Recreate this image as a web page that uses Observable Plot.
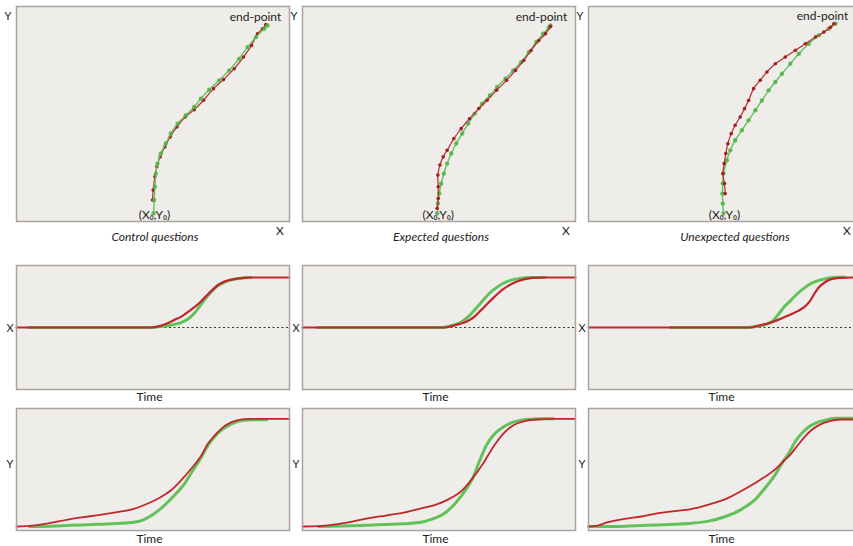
<!DOCTYPE html>
<html>
<head>
<meta charset="utf-8">
<script src="https://cdn.jsdelivr.net/npm/d3@7"></script>
<script src="https://cdn.jsdelivr.net/npm/@observablehq/plot@0.6"></script>
<style>
  html, body { margin: 0; padding: 0; background: #ffffff; }
  #wrap { position: relative; width: 853px; height: 546px; overflow: hidden; font-family: Lato, "Open Sans", sans-serif; color: #222; }
  .pnl { position: absolute; }
  .pnl svg { overflow: visible; display: block; max-width: none !important; }
  .lbl { position: absolute; transform: translate(-50%, -50%); white-space: nowrap; font-size: 12px; line-height: 1; }
  .it { font-style: italic; }
</style>
</head>
<body>
<div id="wrap"></div>
<script>
// ---------------- DATA ----------------
const conditions = ["Control questions", "Expected questions", "Unexpected questions"];

// Top row: mouse trajectories, normalised (start = 0,0 ; end-point = 1,1)
const trajControlRed   = [[-0.009,0.071],[-0.003,0.124],[0.012,0.195],[0.029,0.248],[0.058,0.301],[0.099,0.354],[0.146,0.407],[0.205,0.460],[0.278,0.513],[0.357,0.552],[0.439,0.602],[0.526,0.664],[0.614,0.712],[0.708,0.770],[0.789,0.832],[0.860,0.894],[0.912,0.956],[0.956,0.982],[0.985,1.005]];
const trajControlGreen = [[0,0],[0.006,0.071],[0.012,0.142],[0.020,0.212],[0.035,0.265],[0.064,0.319],[0.108,0.372],[0.152,0.425],[0.211,0.478],[0.284,0.522],[0.357,0.566],[0.415,0.611],[0.488,0.658],[0.576,0.708],[0.664,0.761],[0.751,0.823],[0.825,0.885],[0.898,0.938],[0.971,0.982],[1,1]];
const trajExpectedRed   = [[0,0.027],[0.009,0.080],[0.009,0.142],[0.006,0.204],[0.024,0.257],[0.053,0.301],[0.088,0.336],[0.147,0.398],[0.212,0.451],[0.285,0.504],[0.368,0.558],[0.441,0.602],[0.524,0.655],[0.612,0.708],[0.691,0.761],[0.765,0.814],[0.829,0.867],[0.897,0.920],[0.956,0.956],[1,0.995]];
const trajExpectedGreen = [[0,0],[0.006,0.053],[0.018,0.106],[0.035,0.159],[0.059,0.212],[0.088,0.265],[0.124,0.319],[0.168,0.372],[0.221,0.425],[0.274,0.478],[0.332,0.531],[0.397,0.584],[0.465,0.628],[0.529,0.673],[0.603,0.717],[0.671,0.761],[0.741,0.805],[0.809,0.858],[0.876,0.912],[0.935,0.956],[0.985,0.988],[1,1]];
const trajUnexpectedRed   = [[0.015,0.105],[0.009,0.158],[-0.006,0.211],[0.006,0.263],[0.021,0.316],[0.039,0.368],[0.069,0.421],[0.104,0.465],[0.149,0.509],[0.188,0.553],[0.224,0.596],[0.269,0.658],[0.328,0.702],[0.388,0.746],[0.463,0.789],[0.552,0.825],[0.642,0.860],[0.731,0.895],[0.821,0.930],[0.896,0.956],[0.955,0.982],[0.985,1]];
const trajUnexpectedGreen = [[0,0],[-0.006,0.053],[-0.009,0.105],[-0.006,0.158],[0,0.211],[0.030,0.281],[0.060,0.333],[0.104,0.386],[0.164,0.439],[0.224,0.491],[0.284,0.544],[0.343,0.596],[0.403,0.649],[0.463,0.693],[0.522,0.737],[0.597,0.789],[0.672,0.842],[0.761,0.895],[0.851,0.939],[0.940,0.974],[1,1]];

// Middle row: X over time (time 0-100, X normalised 0 = X0, 1 = end-point)
const xtControlRed     = [[0,0],[49,0],[52.7,0.033],[55.1,0.08],[57.6,0.147],[60.7,0.227],[63.7,0.347],[66.8,0.48],[69.2,0.613],[71.7,0.747],[74.1,0.86],[76.6,0.927],[79.7,0.967],[83.3,0.993],[85.8,1],[100,1]];
const xtControlGreen   = [[4.3,0],[49.6,0],[52.7,0.02],[56.4,0.047],[60,0.093],[63.1,0.18],[65.6,0.313],[67.4,0.447],[69.2,0.58],[71.3,0.713],[73.5,0.827],[76,0.9],[78.4,0.947],[82.1,0.987],[85.8,1]];
const xtExpectedRed    = [[0,0],[52.4,0],[54.9,0.033],[57.3,0.067],[60.4,0.127],[62.9,0.213],[65.4,0.347],[67.8,0.48],[70.3,0.613],[72.7,0.733],[75.2,0.827],[78.3,0.913],[81.4,0.967],[84.5,0.993],[88.2,1],[100,1]];
const xtExpectedGreen  = [[5.5,0],[51.2,0],[53.6,0.027],[56.1,0.06],[58.6,0.127],[61,0.227],[63.5,0.38],[66,0.533],[68.4,0.68],[70.9,0.793],[73.4,0.88],[76.4,0.947],[79.5,0.98],[83.2,1],[88.8,1]];
const xtUnexpectedRed  = [[0,0],[59.4,0],[61.9,0.033],[65.6,0.08],[69.2,0.147],[72.9,0.233],[76.6,0.327],[79.1,0.413],[80.9,0.513],[82.8,0.68],[84.6,0.813],[86.5,0.9],[88.9,0.967],[92,0.993],[96.7,1],[100,1]];
const xtUnexpectedGreen= [[29.9,0],[58.2,0],[61.3,0.02],[64.9,0.06],[67.4,0.127],[69.3,0.247],[71.7,0.413],[74.2,0.547],[76.6,0.68],[79.1,0.793],[81.5,0.88],[84.6,0.947],[87.7,0.987],[91.4,1.007],[93.8,1.007]];

// Bottom row: Y over time (time 0-100, Y normalised 0 = Y0, 1 = end-point)
const ytControlRedT   = [0,5.9,12.1,18.3,24.4,30.6,36.8,43,47.9,52.8,56.5,60.2,64,67.7,70.1,72.6,75.7,78.8,82.5,84.9,100];
const ytControlRedY   = [0,0.009,0.031,0.062,0.087,0.108,0.133,0.164,0.211,0.272,0.334,0.427,0.536,0.659,0.768,0.845,0.923,0.969,0.994,1,1];
const ytControlGreenT = [4.7,12.1,18.3,24.4,30.6,36.8,43,46.7,50.4,54.1,57.8,61.5,64.6,67.7,70.1,72.6,75.7,78.8,82.5,87.4,91.7];
const ytControlGreenY = [0,0.003,0.009,0.015,0.022,0.028,0.04,0.065,0.118,0.195,0.288,0.396,0.52,0.644,0.752,0.836,0.907,0.954,0.985,0.991,0.991];
const ytExpectedRedT   = [0,5.9,12,18.2,24.3,30.5,36.6,42.8,48.9,53.8,58.7,62.4,66.1,69.8,73.5,77.1,80.8,85.7,91.9,100];
const ytExpectedRedY   = [0,0.003,0.019,0.046,0.077,0.102,0.127,0.164,0.204,0.257,0.341,0.452,0.582,0.737,0.861,0.938,0.975,0.994,1,1];
const ytExpectedGreenT = [5.9,12,18.2,24.3,30.5,36.6,42.8,47.7,52.6,56.3,60,62.4,64.9,67.3,70.4,73.5,77.1,82.1,87,91.9];
const ytExpectedGreenY = [0,0.003,0.006,0.012,0.019,0.025,0.037,0.071,0.133,0.226,0.35,0.452,0.613,0.752,0.861,0.923,0.969,0.994,1,1];
const ytUnexpectedRedT   = [0,3.4,7.1,13.3,19.4,25.6,31.7,37.9,44,50.2,56.3,62.5,68.6,71.7,74.2,76.6,79.1,81.5,84.6,88.3,92,97.4,100];
const ytUnexpectedRedY   = [0,0.009,0.04,0.071,0.093,0.124,0.142,0.164,0.204,0.254,0.334,0.427,0.536,0.613,0.675,0.752,0.83,0.892,0.944,0.978,0.994,0.994,0.994];
const ytUnexpectedGreenT = [0,7.1,13.3,19.4,25.6,31.7,37.9,44,50.2,56.3,61.3,64.9,68.6,71.1,73.6,76,78.5,80.9,83.4,87.1,90.8,94.5,97.4];
const ytUnexpectedGreenY = [0,0,0.003,0.009,0.015,0.022,0.031,0.05,0.093,0.164,0.257,0.365,0.489,0.598,0.69,0.799,0.876,0.929,0.963,0.991,1.006,1.006,1.006];

const startLabel = "(X₀,Y₀)";
const endLabel = "end-point";

// ---------------- STYLE / LAYOUT ----------------
const BG = "#efedea", FRAME = "#a9a49f";
const RED = "#c0262c", RED_DOT = "#a31d22", GREEN = "#62c25a", GREEN_DOT = "#4db242";
const colLeft = [16, 302, 588], colW = 273;
const rows = { top: {y: 6, h: 215}, mid: {y: 265, h: 124}, bot: {y: 408, h: 122} };

const zipTY = (t, y) => t.map((v, i) => [v, y[i]]);
const wrap = document.getElementById("wrap");

function place(svg, left, top, w, h) {
  const d = document.createElement("div");
  d.className = "pnl";
  d.style.left = left + "px";
  d.style.top = top + "px";
  d.style.width = w + "px";
  d.style.height = h + "px";
  d.appendChild(svg);
  wrap.appendChild(d);
}
function label(text, x, y, cls, size) {
  const s = document.createElement("span");
  s.className = "lbl " + (cls || "");
  s.textContent = text;
  s.style.left = x + "px";
  s.style.top = y + "px";
  if (size) s.style.fontSize = size + "px";
  wrap.appendChild(s);
}

function basePlot(w, h, xDomain, yDomain, marks) {
  return Plot.plot({
    width: w, height: h, margin: 0,
    x: {domain: xDomain, axis: null},
    y: {domain: yDomain, axis: null},
    style: {fontFamily: "Lato, 'Open Sans', sans-serif", fontSize: "12px", color: "#222", background: "transparent", overflow: "visible"},
    marks: [Plot.frame({fill: BG}), ...marks, Plot.frame({stroke: FRAME, strokeWidth: 1.5})]
  });
}

// ---------------- TOP ROW ----------------
const topSets = [
  {red: trajControlRed, green: trajControlGreen, xd: [-1.202, 1.193], yd: [-0.043, 1.101], greenOnTop: true, edx: -12},
  {red: trajExpectedRed, green: trajExpectedGreen, xd: [-1.189, 1.221], yd: [-0.043, 1.101], greenOnTop: false, edx: -9},
  {red: trajUnexpectedRed, green: trajUnexpectedGreen, xd: [-1.205, 1.232], yd: [-0.042, 1.091], greenOnTop: false, edx: -13}
];
topSets.forEach((s, i) => {
  const redMarks = [
    Plot.line(s.red, {x: d => d[0], y: d => d[1], stroke: RED, strokeWidth: 1.2, curve: "catmull-rom"}),
    Plot.dot(s.red, {x: d => d[0], y: d => d[1], r: 1.8, fill: RED_DOT, stroke: "none"})
  ];
  const greenMarks = [
    Plot.line(s.green, {x: d => d[0], y: d => d[1], stroke: GREEN, strokeWidth: 1.4, curve: "catmull-rom"}),
    Plot.dot(s.green, {x: d => d[0], y: d => d[1], r: 2.2, fill: GREEN_DOT, fillOpacity: 0.85, stroke: "none"})
  ];
  const marks = s.greenOnTop ? [...redMarks, ...greenMarks] : [...greenMarks, ...redMarks];
  marks.push(Plot.text([[1, 1]], {x: d => d[0], y: d => d[1], text: () => endLabel, dx: s.edx, dy: -8, fill: "#222"}));
  marks.push(Plot.text([[0, 0]], {x: d => d[0], y: d => d[1], text: () => startLabel, dx: 1, dy: 2, fill: "#222"}));
  place(basePlot(colW, rows.top.h, s.xd, s.yd, marks), colLeft[i], rows.top.y, colW, rows.top.h);
  label("Y", colLeft[i] - 8, 15, "", 11);
  label("X", Math.min(colLeft[i] + colW - 9, 847), 231, "", 12);
  label(conditions[i], colLeft[i] + 139 + (i === 2 ? 8 : 0), 237, "it", 12);
});

// ---------------- MIDDLE ROW ----------------
const midSets = [
  {red: xtControlRed, green: xtControlGreen},
  {red: xtExpectedRed, green: xtExpectedGreen},
  {red: xtUnexpectedRed, green: xtUnexpectedGreen}
];
midSets.forEach((s, i) => {
  const marks = [
    Plot.ruleY([0], {stroke: "#333", strokeWidth: 1, strokeDasharray: "2,2.5"}),
    Plot.line(s.green, {x: d => d[0], y: d => d[1], stroke: GREEN, strokeWidth: 3, curve: "monotone-x"}),
    Plot.line(s.red, {x: d => d[0], y: d => d[1], stroke: RED, strokeWidth: 2.2, curve: "monotone-x"})
  ];
  place(basePlot(colW, rows.mid.h, [0, 100], [-1.24, 1.24], marks), colLeft[i], rows.mid.y, colW, rows.mid.h);
  label("X", colLeft[i] - 6, 327, "", 11);
  label("Time", colLeft[i] + colW / 2 - 3, 397, "", 12);
});

// ---------------- BOTTOM ROW ----------------
const botSets = [
  {red: zipTY(ytControlRedT, ytControlRedY), green: zipTY(ytControlGreenT, ytControlGreenY)},
  {red: zipTY(ytExpectedRedT, ytExpectedRedY), green: zipTY(ytExpectedGreenT, ytExpectedGreenY)},
  {red: zipTY(ytUnexpectedRedT, ytUnexpectedRedY), green: zipTY(ytUnexpectedGreenT, ytUnexpectedGreenY)}
];
botSets.forEach((s, i) => {
  const marks = [
    Plot.line(s.green, {x: d => d[0], y: d => d[1], stroke: GREEN, strokeWidth: 3, curve: "monotone-x"}),
    Plot.line(s.red, {x: d => d[0], y: d => d[1], stroke: RED, strokeWidth: 1.8, curve: "monotone-x"})
  ];
  place(basePlot(colW, rows.bot.h, [0, 100], [-0.037, 1.096], marks), colLeft[i], rows.bot.y, colW, rows.bot.h);
  label("Y", colLeft[i] - 6, 463, "", 11);
  label("Time", colLeft[i] + colW / 2 - 3, 539, "", 12);
});
</script>
</body>
</html>
